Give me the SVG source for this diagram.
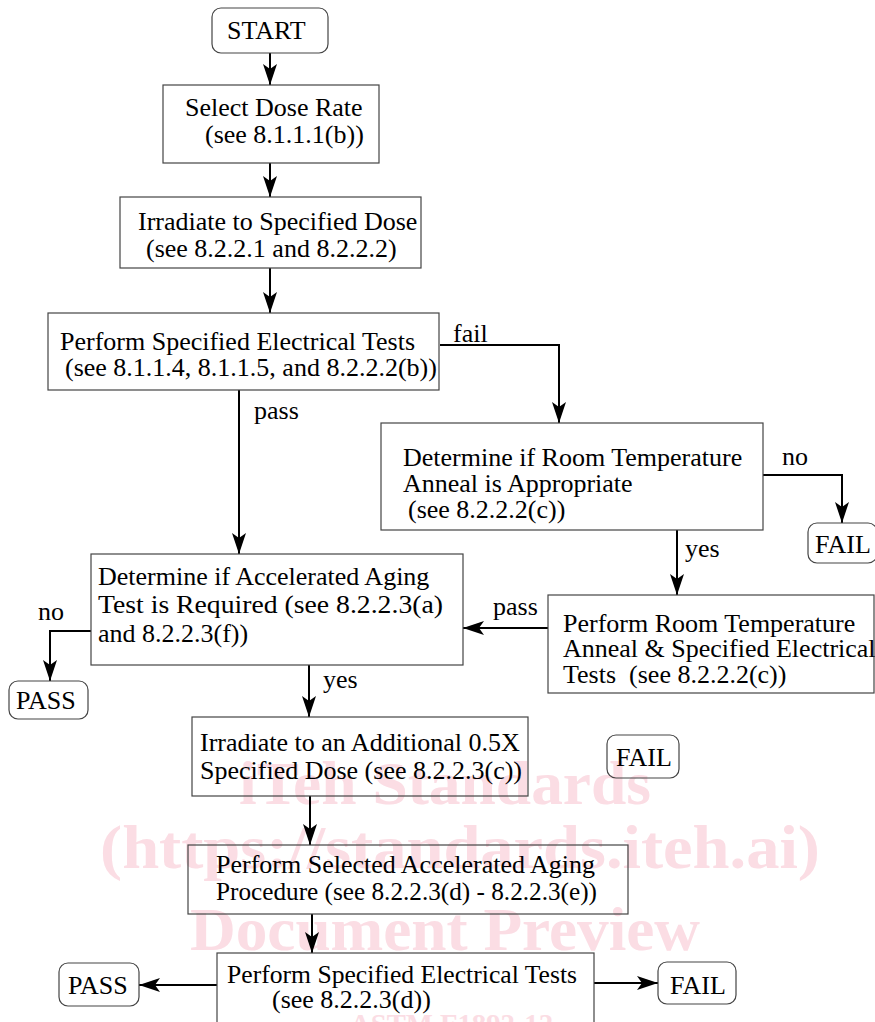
<svg xmlns="http://www.w3.org/2000/svg" width="875" height="1022" viewBox="0 0 875 1022">
<style>
.t{font-family:"Liberation Serif","Times New Roman",serif;font-size:26px;fill:#000}
.box{fill:none;stroke:#444;stroke-width:1.2}
.term{fill:none;stroke:#444;stroke-width:1.2}
.c{fill:none;stroke:#000;stroke-width:2}
.wm{font-family:"Liberation Serif","Times New Roman",serif;font-weight:bold;fill:#fbdde4}
</style>
<defs>
<marker id="ah" viewBox="0 0 21 14" refX="21" refY="7" markerWidth="21" markerHeight="14" markerUnits="userSpaceOnUse" orient="auto">
<path d="M0,0 L21,7 L0,14 L5,7 Z" fill="#000"/>
</marker>
</defs>
<rect width="875" height="1022" fill="#fff"/>
<g id="watermark">
<text class="wm" x="239" y="804" font-size="62" textLength="412" lengthAdjust="spacingAndGlyphs">iTeh Standards</text>
<text class="wm" x="100" y="868" font-size="62" textLength="720" lengthAdjust="spacingAndGlyphs">(https://standards.iteh.ai)</text>
<text class="wm" x="190" y="950" font-size="62" textLength="510" lengthAdjust="spacingAndGlyphs">Document Preview</text>
<text class="wm" x="350" y="1034" font-size="30" textLength="203" lengthAdjust="spacingAndGlyphs">ASTM F1892-12</text>
</g>
<g id="connectors">
<path class="c" d="M270,53 V85" marker-end="url(#ah)"/>
<path class="c" d="M270,163 V197" marker-end="url(#ah)"/>
<path class="c" d="M270,268 V313" marker-end="url(#ah)"/>
<path class="c" d="M239,390 V554" marker-end="url(#ah)"/>
<path class="c" d="M440,345 H559 V423" marker-end="url(#ah)"/>
<path class="c" d="M763,475 H842 V523" marker-end="url(#ah)"/>
<path class="c" d="M677,530 V595" marker-end="url(#ah)"/>
<path class="c" d="M548,628 H463" marker-end="url(#ah)"/>
<path class="c" d="M91,631 H50 V681" marker-end="url(#ah)"/>
<path class="c" d="M309,665 V717" marker-end="url(#ah)"/>
<path class="c" d="M310,796 V845" marker-end="url(#ah)"/>
<path class="c" d="M312,914 V953" marker-end="url(#ah)"/>
<path class="c" d="M217,985 H139" marker-end="url(#ah)"/>
<path class="c" d="M594,983 H658" marker-end="url(#ah)"/>
<text class="t" x="453" y="342">fail</text>
<text class="t" x="254" y="419">pass</text>
<text class="t" x="782" y="465">no</text>
<text class="t" x="685" y="557">yes</text>
<text class="t" x="493" y="615">pass</text>
<text class="t" x="38" y="620">no</text>
<text class="t" x="323" y="688">yes</text>
</g>
<g id="start">
<rect class="term" x="212" y="8" width="116" height="45" rx="9"/>
<text class="t" x="227" y="39">START</text>
</g>
<g id="select-dose-rate">
<rect class="box" x="163" y="85" width="216" height="78"/>
<text class="t" x="185" y="116">Select Dose Rate</text>
<text class="t" x="205" y="143">(see 8.1.1.1(b))</text>
</g>
<g id="irradiate">
<rect class="box" x="120" y="197" width="301" height="71"/>
<text class="t" x="138" y="230">Irradiate to Specified Dose</text>
<text class="t" x="146" y="257">(see 8.2.2.1 and 8.2.2.2)</text>
</g>
<g id="electrical-tests-1">
<rect class="box" x="48" y="313" width="391" height="77"/>
<text class="t" x="60" y="350">Perform Specified Electrical Tests</text>
<text class="t" x="65" y="376">(see 8.1.1.4, 8.1.1.5, and 8.2.2.2(b))</text>
</g>
<g id="room-temp-decision">
<rect class="box" x="381" y="423" width="382" height="107"/>
<text class="t" x="403" y="466">Determine if Room Temperature</text>
<text class="t" x="403" y="492">Anneal is Appropriate</text>
<text class="t" x="408" y="518">(see 8.2.2.2(c))</text>
</g>
<g id="fail-1">
<rect class="term" x="808" y="523" width="69" height="40" rx="9"/>
<text class="t" x="815" y="553">FAIL</text>
</g>
<g id="room-temp-anneal">
<rect class="box" x="548" y="595" width="326" height="98"/>
<text class="t" x="563" y="632">Perform Room Temperature</text>
<text class="t" x="563" y="657">Anneal &amp; Specified Electrical</text>
<text class="t" x="563" y="683" xml:space="preserve">Tests  (see 8.2.2.2(c))</text>
</g>
<g id="aging-decision">
<rect class="box" x="91" y="554" width="372" height="111"/>
<text class="t" x="98" y="585">Determine if Accelerated Aging</text>
<text class="t" x="98" y="613" textLength="345" lengthAdjust="spacingAndGlyphs">Test is Required (see 8.2.2.3(a)</text>
<text class="t" x="98" y="642">and 8.2.2.3(f))</text>
</g>
<g id="pass-1">
<rect class="term" x="9" y="681" width="79" height="38" rx="9"/>
<text class="t" x="16" y="709">PASS</text>
</g>
<g id="fail-2">
<rect class="term" x="607" y="735" width="72" height="43" rx="9"/>
<text class="t" x="616" y="766">FAIL</text>
</g>
<g id="irradiate-additional">
<rect class="box" x="192" y="717" width="336" height="79"/>
<text class="t" x="200" y="751">Irradiate to an Additional 0.5X</text>
<text class="t" x="200" y="779">Specified Dose (see 8.2.2.3(c))</text>
</g>
<g id="aging-procedure">
<rect class="box" x="188" y="845" width="440" height="69"/>
<text class="t" x="216" y="873">Perform Selected Accelerated Aging</text>
<text class="t" x="216" y="900" textLength="381" lengthAdjust="spacingAndGlyphs">Procedure (see 8.2.2.3(d) - 8.2.2.3(e))</text>
</g>
<g id="electrical-tests-2">
<rect class="box" x="217" y="953" width="377" height="75"/>
<text class="t" x="227" y="983" textLength="350" lengthAdjust="spacingAndGlyphs">Perform Specified Electrical Tests</text>
<text class="t" x="272" y="1008">(see 8.2.2.3(d))</text>
</g>
<g id="pass-2">
<rect class="term" x="59" y="963" width="80" height="43" rx="9"/>
<text class="t" x="68" y="994">PASS</text>
</g>
<g id="fail-3">
<rect class="term" x="658" y="962" width="78" height="42" rx="9"/>
<text class="t" x="670" y="994">FAIL</text>
</g>
</svg>
